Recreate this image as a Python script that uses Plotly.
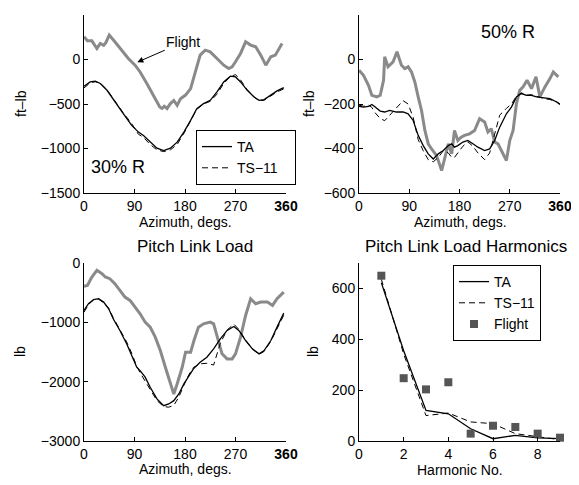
import plotly.graph_objects as go

# page body has an 8px default margin, so the figure is sized to fill the rest of the window
OFF = 8
W, H = 579 - OFF, 485 - OFF
FONT = "Liberation Sans, Arial, Helvetica, sans-serif"
GRAY = "#8a8a8a"

# ---------------- Data ----------------
# Top-left: 30% R moment (ft-lb)
tl_flight_az = [0, 6, 14, 23, 29, 35, 39, 45, 55, 67, 79, 91, 100, 112, 124, 135, 139, 143, 148, 154,
                160, 166, 172, 181, 190, 198, 207, 216, 225, 237, 249, 258, 264, 270, 279, 288, 297,
                306, 315, 324, 333, 341, 353]
tl_flight = [256, 210, 210, 124, 180, 160, 190, 275, 200, 105, 11, -64, -140, -270, -400, -534, -550,
             -525, -550, -495, -460, -515, -440, -400, -327, -158, 49, 105, 86, 11, -64, -101, -83,
             -26, 68, 199, 162, 143, 49, -64, 30, 49, 180]
tl_ta_az = [0, 11, 20, 29, 41, 55, 70, 85, 97, 106, 118, 130, 142, 154, 166, 178, 190, 201, 213,
            225, 237, 249, 261, 270, 279, 291, 303, 312, 321, 333, 344, 356]
tl_ta = [-300, -252, -244, -270, -346, -478, -609, -740, -816, -854, -929, -996, -1023, -996, -929,
         -816, -684, -553, -496, -459, -365, -252, -188, -196, -252, -346, -421, -459, -451, -402,
         -353, -316]
tl_ts_az = tl_ta_az
tl_ts = [-320, -262, -250, -265, -340, -470, -600, -720, -840, -875, -955, -1015, -1035, -1015,
         -955, -830, -690, -560, -500, -470, -390, -270, -190, -170, -230, -340, -420, -462, -458,
         -410, -365, -330]

# Top-right: 50% R moment (ft-lb)
tr_flight_az = [0, 8, 17, 23, 32, 38, 44, 46, 52, 61, 68, 76, 82, 88, 94, 100, 106, 112, 118, 124,
                130, 139, 148, 154, 160, 166, 171, 177, 183, 189, 198, 207, 216, 225, 231, 237, 243,
                249, 258, 264, 270, 276, 282, 288, 294, 301, 309, 317, 324, 333, 342, 348, 357]
tr_flight = [-48, -71, -116, -161, -168, -161, -93, 12, -33, -11, 35, -26, -41, -33, -56, -101, -168,
             -229, -319, -379, -402, -432, -499, -439, -379, -424, -319, -364, -349, -341, -334,
             -319, -266, -281, -326, -311, -371, -379, -424, -454, -364, -319, -198, -138, -123, -93,
             -131, -78, -168, -123, -86, -56, -78]
tr_ta_az = [0, 8, 17, 23, 29, 38, 46, 55, 67, 79, 88, 97, 106, 115, 124, 133, 142, 151, 160, 166,
            171, 177, 186, 195, 204, 213, 225, 234, 243, 252, 264, 273, 282, 291, 300, 309, 318,
            330, 342, 354, 360]
tr_ta = [-211, -214, -211, -202, -214, -232, -236, -229, -236, -236, -244, -274, -341, -387, -424,
         -447, -424, -409, -387, -379, -394, -387, -371, -364, -379, -394, -409, -402, -364, -304,
         -244, -214, -168, -153, -161, -161, -168, -171, -176, -191, -202]
tr_ts_az = tr_ta_az
tr_ts = [-205, -210, -205, -215, -240, -265, -275, -250, -215, -185, -200, -260, -360, -410, -450,
         -460, -440, -410, -420, -440, -440, -420, -390, -370, -390, -420, -450, -420, -330, -250,
         -220, -200, -165, -150, -160, -158, -165, -175, -180, -190, -200]

# Bottom-left: pitch link load (lb)
bl_flight_az = [0, 6, 14, 23, 32, 38, 46, 55, 64, 73, 82, 91, 100, 109, 118, 127, 136, 145, 154,
                160, 166, 175, 181, 190, 196, 204, 213, 225, 231, 237, 246, 255, 264, 270, 279, 288,
                297, 306, 315, 327, 336, 344, 356]
bl_flight = [-394, -377, -236, -124, -180, -236, -265, -349, -462, -574, -631, -743, -856, -997,
             -1081, -1250, -1475, -1757, -2010, -2207, -2038, -1757, -1503, -1503, -1306, -1081,
             -1025, -997, -1025, -1222, -1531, -1616, -1616, -1531, -1250, -884, -602, -687, -659,
             -659, -715, -602, -490]
bl_ta_az = [0, 8, 17, 26, 35, 44, 52, 64, 76, 85, 94, 100, 109, 118, 130, 142, 151, 160, 169, 178,
            187, 195, 207, 219, 231, 243, 255, 267, 276, 288, 300, 312, 321, 333, 344, 356]
bl_ta = [-800, -687, -619, -602, -659, -771, -940, -1137, -1362, -1560, -1757, -1813, -1925, -2094,
         -2291, -2404, -2376, -2320, -2207, -2038, -1897, -1785, -1672, -1588, -1447, -1278, -1137,
         -1070, -1137, -1306, -1447, -1531, -1475, -1306, -1081, -845]
bl_ts_az = bl_ta_az
bl_ts = [-830, -700, -620, -610, -670, -760, -920, -1130, -1330, -1520, -1740, -1850, -1990, -2150,
         -2320, -2420, -2430, -2400, -2260, -2060, -1880, -1760, -1700, -1690, -1720, -1350, -1130,
         -1030, -1120, -1300, -1450, -1540, -1490, -1320, -1120, -880]

# Bottom-right: pitch link load harmonics (lb)
harmonic = [1, 2, 3, 4, 5, 6, 7, 8, 9]
hr_ta = [623, 355, 120, 107, 48, 9, 22, 12, 9]
hr_ts = [636, 342, 100, 110, 75, 68, 29, 16, 5]
hr_flight = [650, 247, 203, 231, 29, 60, 55, 29, 13]

az_ticks = [0, 90, 180, 270, 360]
az_ticktext = ["0", "90", "180", "270", "<b>360</b>"]

# ---------------- Figure ----------------
fig = go.Figure()

def add_curves(az_f, f, az_a, a, az_s, s, xa, ya, legend=None, pad=""):
    fig.add_trace(go.Scatter(x=az_f, y=f, mode="lines", line=dict(color=GRAY, width=3),
                             xaxis=xa, yaxis=ya, showlegend=False))
    fig.add_trace(go.Scatter(x=az_s, y=s, mode="lines", name="TS\u221211" + pad,
                             line=dict(color="black", width=1, dash="6px,4px"),
                             xaxis=xa, yaxis=ya, showlegend=legend is not None,
                             legend=legend or "legend", legendrank=2))
    fig.add_trace(go.Scatter(x=az_a, y=a, mode="lines", name="TA",
                             line=dict(color="black", width=1.3),
                             xaxis=xa, yaxis=ya, showlegend=legend is not None,
                             legend=legend or "legend", legendrank=1))

add_curves(tl_flight_az, tl_flight, tl_ta_az, tl_ta, tl_ts_az, tl_ts, "x", "y",
           legend="legend", pad="\u00a0\u00a0\u00a0")
add_curves(tr_flight_az, tr_flight, tr_ta_az, tr_ta, tr_ts_az, tr_ts, "x2", "y2")
add_curves(bl_flight_az, bl_flight, bl_ta_az, bl_ta, bl_ts_az, bl_ts, "x3", "y3")

fig.add_trace(go.Scatter(x=harmonic, y=hr_ts, mode="lines", name="TS\u221211",
                         line=dict(color="black", width=1, dash="6px,4px"),
                         xaxis="x4", yaxis="y4", legend="legend2", legendrank=2))
fig.add_trace(go.Scatter(x=harmonic, y=hr_ta, mode="lines", name="TA",
                         line=dict(color="black", width=1.3),
                         xaxis="x4", yaxis="y4", legend="legend2", legendrank=1))
fig.add_trace(go.Scatter(x=harmonic, y=hr_flight, mode="markers", name="Flight",
                         marker=dict(symbol="square", size=8, color="#555555"),
                         xaxis="x4", yaxis="y4", legend="legend2", legendrank=3,
                         cliponaxis=False))

def px_x(p):
    return (p - OFF) / W

def px_y(p):
    return 1 - (p - OFF) / H

xL = [px_x(84), px_x(286)]
xR = [px_x(359), px_x(560)]
yT = [px_y(193), px_y(15)]
yB = [px_y(441), px_y(263)]

axis_common = dict(showline=True, linecolor="black", linewidth=1, ticks="inside", ticklen=4,
                   tickcolor="black", showgrid=False, zeroline=False, mirror=False,
                   automargin=False,
                   tickfont=dict(family=FONT, size=14, color="black"))

fig.update_layout(
    width=W, height=H, margin=dict(l=0, r=0, t=0, b=0, autoexpand=False),
    paper_bgcolor="white", plot_bgcolor="white",
    font=dict(family=FONT, size=14, color="black"),
    xaxis=dict(domain=xL, anchor="y", range=[0, 360], tickvals=az_ticks, ticktext=az_ticktext, **axis_common),
    yaxis=dict(domain=yT, anchor="x", range=[-1500, 500], tickvals=[-1500, -1000, -500, 0, 500], **axis_common),
    xaxis2=dict(domain=xR, anchor="y2", range=[0, 360], tickvals=az_ticks, ticktext=az_ticktext, **axis_common),
    yaxis2=dict(domain=yT, anchor="x2", range=[-600, 200], tickvals=[-600, -400, -200, 0, 200], **axis_common),
    xaxis3=dict(domain=xL, anchor="y3", range=[0, 360], tickvals=az_ticks, ticktext=az_ticktext, **axis_common),
    yaxis3=dict(domain=yB, anchor="x3", range=[-3000, 0], tickvals=[-3000, -2000, -1000, 0], **axis_common),
    xaxis4=dict(domain=xR, anchor="y4", range=[0, 9], tickvals=[0, 2, 4, 6, 8], **axis_common),
    yaxis4=dict(domain=yB, anchor="x4", range=[0, 700], tickvals=[0, 200, 400, 600], **axis_common),
    legend=dict(x=px_x(196), y=px_y(130), xanchor="left", yanchor="top",
                bordercolor="black", borderwidth=1, bgcolor="white",
                font=dict(family=FONT, size=14, color="black"), tracegroupgap=0),
    legend2=dict(x=px_x(453), y=px_y(265), xanchor="left", yanchor="top",
                 bordercolor="black", borderwidth=1, bgcolor="white",
                 font=dict(family=FONT, size=14, color="black"), tracegroupgap=0),
)

def text(x, y, s, size=14, angle=0):
    fig.add_annotation(x=px_x(x), y=px_y(y), xref="paper", yref="paper", text=s, showarrow=False,
                       font=dict(family=FONT, size=size, color="black"), textangle=angle,
                       xanchor="center", yanchor="middle")

# axis titles
text(21, 104, "ft\u2013lb", angle=-90)
text(309, 104, "ft\u2013lb", angle=-90)
text(20, 352, "lb", angle=-90)
text(313, 352, "lb", angle=-90)
text(185, 222, "Azimuth, degs.")
text(460, 222, "Azimuth, degs.")
text(185, 469, "Azimuth, degs.")
text(460, 470, "Harmonic No.")
# panel titles
text(195, 246, "Pitch Link Load", size=17)
text(466, 246, "Pitch Link Load Harmonics", size=17)
# panel labels
text(118, 167, "30% R", size=18)
text(508, 32, "50% R", size=18)

# Flight arrow annotation (top-left)
fig.add_annotation(x=95, y=-30, xref="x", yref="y", text="Flight", showarrow=True,
                   ax=46, ay=-20, arrowhead=2, arrowsize=1.2, arrowwidth=1, arrowcolor="black",
                   font=dict(family=FONT, size=14, color="black"))

fig.write_html("out.html")
